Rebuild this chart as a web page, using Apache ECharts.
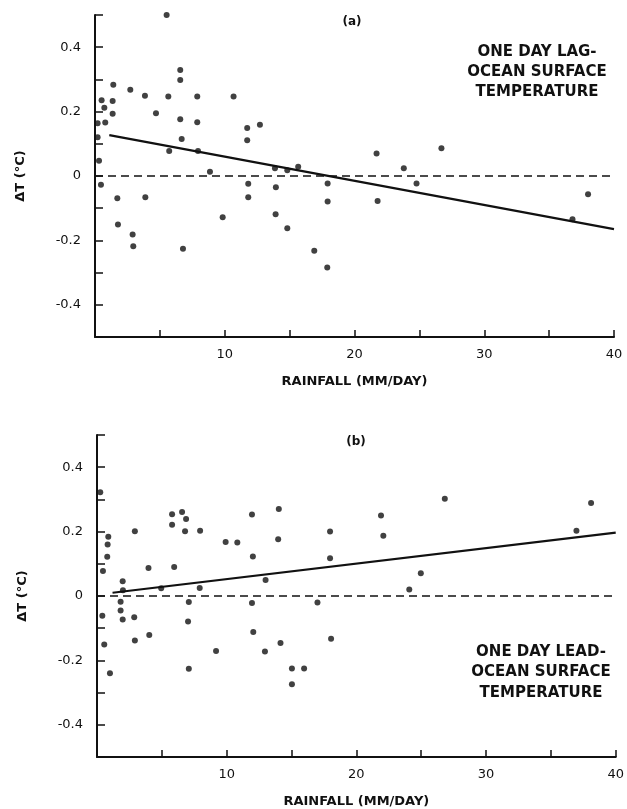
<!DOCTYPE html>
<html>
<head>
<meta charset="utf-8">
<script src="https://cdn.jsdelivr.net/npm/echarts@6/dist/echarts.min.js"></script>
<style>
html,body{margin:0;padding:0;background:#fff;}
#chart{width:627px;height:809px;}
</style>
</head>
<body>
<div id="chart"></div>
<script>
// Panel (a): one day lag
const lagPoints = [
  [5.52,0.50],[6.57,0.329],[6.57,0.298],[6.57,0.176],[6.68,0.115],[7.88,0.247],[7.88,0.167],
  [7.94,0.078],[8.86,0.013],[5.65,0.247],[5.72,0.078],[4.70,0.195],[3.85,0.249],[2.72,0.268],
  [1.41,0.283],[1.36,0.233],[1.36,0.193],[0.79,0.166],[0.72,0.212],[0.51,0.235],[0.20,0.164],
  [0.20,0.120],[0.31,0.047],[0.46,-0.027],[10.68,0.247],[11.73,0.149],[11.73,0.111],[12.71,0.159],
  [13.87,0.024],[14.82,0.018],[15.66,0.029],[11.81,-0.024],[13.94,-0.035],[1.72,-0.069],
  [3.88,-0.066],[11.81,-0.066],[1.77,-0.151],[2.90,-0.182],[2.95,-0.218],[6.78,-0.226],
  [9.84,-0.128],[13.92,-0.119],[14.82,-0.162],[16.9,-0.232],[21.7,0.070],[26.7,0.086],
  [23.8,0.024],[24.78,-0.023],[17.93,-0.023],[38.0,-0.057],[17.93,-0.079],[21.78,-0.078],
  [36.8,-0.134],[17.9,-0.284]
];
const lagFit = [[1.1,0.127],[40,-0.165]];

// Panel (b): one day lead
const leadPoints = [
  [7.85,0.502],[0.25,0.322],[0.87,0.184],[0.82,0.160],[0.79,0.122],[0.46,0.078],[2.92,0.201],
  [3.97,0.087],[4.95,0.024],[5.79,0.254],[5.79,0.221],[5.95,0.090],[6.56,0.261],[6.87,0.239],
  [6.79,0.201],[7.95,0.203],[7.92,0.025],[9.92,0.168],[10.82,0.166],[11.95,0.253],[12.02,0.123],
  [14.02,0.270],[13.97,0.176],[13.0,0.050],[1.98,0.046],[2.0,0.018],[1.82,-0.018],[1.82,-0.045],
  [0.41,-0.061],[2.87,-0.066],[7.08,-0.019],[11.95,-0.022],[17.0,-0.020],[0.56,-0.151],
  [1.0,-0.240],[1.98,-0.073],[2.92,-0.138],[4.03,-0.121],[7.02,-0.079],[7.08,-0.226],
  [9.18,-0.171],[12.05,-0.112],[12.95,-0.172],[14.15,-0.146],[15.03,-0.225],[15.03,-0.274],
  [15.97,-0.225],[17.97,0.200],[17.97,0.117],[21.9,0.250],[22.08,0.187],[26.82,0.302],
  [24.97,0.071],[24.08,0.020],[36.97,0.203],[38.1,0.289],[18.05,-0.133]
];
const leadFit = [[1.2,0.01],[40,0.197]];

const zeroLine = [[0,0],[40,0]];

const xLabelValues = [10,20,30,40];
const yLabelValues = [0.4,0.2,0,-0.2,-0.4];

const panelTitles = ['(a)','(b)'];
const noteA = ['ONE DAY LAG-','OCEAN SURFACE','TEMPERATURE'];
const noteB = ['ONE DAY LEAD-','OCEAN SURFACE','TEMPERATURE'];

const FONT = 'DejaVu Sans';
const INK = '#111';

function xAxisCfg(gi){
  return {
    gridIndex: gi, type:'value', min:0, max:40, interval:5,
    name:'RAINFALL (MM/DAY)', nameLocation:'middle', nameGap:38,
    nameTextStyle:{fontFamily:FONT,fontWeight:'bold',fontSize:13,color:INK},
    axisLine:{onZero:false,lineStyle:{color:INK,width:2}},
    axisTick:{inside:true,length:7,lineStyle:{color:INK,width:1.5}},
    axisLabel:{margin:11,fontFamily:FONT,fontSize:13,color:INK,
      formatter:v=>xLabelValues.indexOf(Math.round(v))>=0?String(Math.round(v)):''},
    splitLine:{show:false}
  };
}
function yAxisCfg(gi){
  return {
    gridIndex: gi, type:'value', min:-0.5, max:0.5, interval:0.1,
    name:'\u0394T (\u00B0C)', nameLocation:'middle', nameGap:68, nameRotate:90,
    nameTextStyle:{fontFamily:FONT,fontWeight:'bold',fontSize:13,color:INK},
    axisLine:{onZero:false,lineStyle:{color:INK,width:2}},
    axisTick:{inside:true,length:8,lineStyle:{color:INK,width:1.5}},
    axisLabel:{margin:14,fontFamily:FONT,fontSize:13,color:INK,
      formatter:v=>{
        const r=Math.round(v*10)/10;
        for(const t of yLabelValues){ if(Math.abs(t-r)<1e-6) return t===0?'0':t.toFixed(1); }
        return '';
      }},
    splitLine:{show:false}
  };
}
function scatter(idx,data){
  return {type:'scatter',xAxisIndex:idx,yAxisIndex:idx,data:data,symbolSize:6,
    itemStyle:{color:INK},silent:true,z:3};
}
function line(idx,data,dashed){
  return {type:'line',xAxisIndex:idx,yAxisIndex:idx,data:data,showSymbol:false,symbol:'none',
    lineStyle:{color:INK,width:dashed?1.6:2.2,type:dashed?[8,5]:'solid'},silent:true,z:2};
}
function textLines(lines,cx,y0,step){
  return lines.map((t,i)=>({type:'text',x:cx,y:y0+i*step,
    style:{text:t,fill:INK,font:'bold 15px "'+FONT+'"',textAlign:'center',textVerticalAlign:'middle'}}));
}

const chart = echarts.init(document.getElementById('chart'),null,{renderer:'canvas'});
chart.setOption({
  backgroundColor:'#fff',
  animation:false,
  grid:[
    {left:95,right:13,top:15,height:322},
    {left:97,right:10,top:435,height:324}
  ],
  xAxis:[xAxisCfg(0),xAxisCfg(1)],
  yAxis:[yAxisCfg(0),yAxisCfg(1)],
  series:[
    line(0,zeroLine,true), line(0,lagFit,false), scatter(0,lagPoints),
    line(1,zeroLine,true), line(1,leadFit,false), scatter(1,leadPoints)
  ],
  graphic:[
    {type:'text',x:352,y:22,style:{text:panelTitles[0],fill:INK,font:'bold 12px "'+FONT+'"',textAlign:'center',textVerticalAlign:'middle'}},
    {type:'text',x:356,y:442,style:{text:panelTitles[1],fill:INK,font:'bold 12px "'+FONT+'"',textAlign:'center',textVerticalAlign:'middle'}},
    ...textLines(noteA,537,52,20),
    ...textLines(noteB,541,652,20.5)
  ]
});
</script>
</body>
</html>
